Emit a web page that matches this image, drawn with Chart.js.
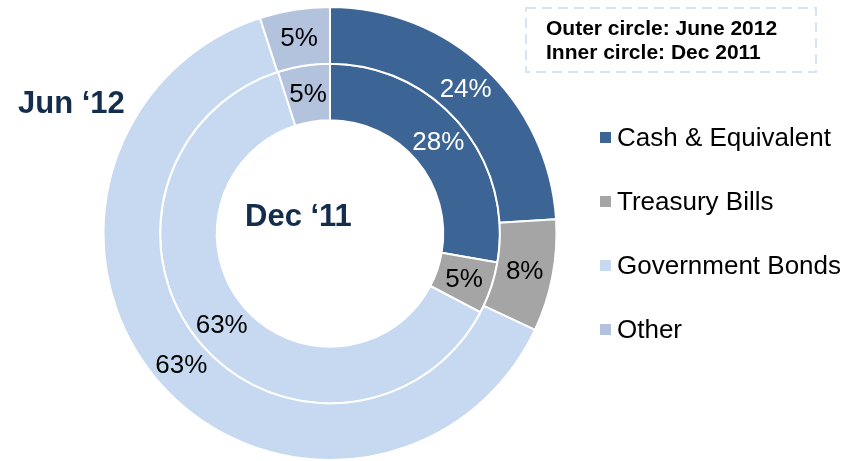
<!DOCTYPE html>
<html>
<head>
<meta charset="utf-8">
<script src="https://cdn.jsdelivr.net/npm/chart.js@4.4.0/dist/chart.umd.min.js"></script>
<style>
  html, body { margin: 0; padding: 0; background: #fff; }
  #wrap { width: 853px; height: 461px; position: relative; }
</style>
</head>
<body>
<div id="wrap"><canvas id="portfolioChart" width="853" height="461"></canvas></div>
<script>
// Portfolio split, outer ring = June 2012, inner ring = Dec 2011
const categories = ['Cash & Equivalent', 'Treasury Bills', 'Government Bonds', 'Other'];
const jun12Values = [24, 8, 63, 5];
const dec11Values = [28, 5, 63, 5];
const sliceColors = ['#3C6494', '#A5A5A5', '#C6D9F1', '#B3C2DD'];
const labelColors = ['#ffffff', '#000000', '#000000', '#000000'];
const ringNames = ['Jun \u201812', 'Dec \u201811'];
const noteLines = ['Outer circle: June 2012', 'Inner circle: Dec 2011'];

const FONT = '"Liberation Sans", Arial, sans-serif';

// Percent labels in the middle of each slice
const sliceLabels = {
    id: 'sliceLabels',
    afterDatasetsDraw(chart) {
        const ctx = chart.ctx;
        ctx.save();
        ctx.font = '26px ' + FONT;
        ctx.textAlign = 'center';
        ctx.textBaseline = 'middle';
        chart.data.datasets.forEach((ds, di) => {
            chart.getDatasetMeta(di).data.forEach((arc, i) => {
                const p = arc.tooltipPosition();
                ctx.fillStyle = labelColors[i];
                ctx.fillText(ds.data[i] + '%', p.x, p.y + 1);
            });
        });
        ctx.restore();
    }
};

// Legend, ring names and the note box
const extras = {
    id: 'extras',
    afterDraw(chart) {
        const ctx = chart.ctx;
        ctx.save();

        // legend on the right
        ctx.font = '26px ' + FONT;
        ctx.textBaseline = 'middle';
        ctx.textAlign = 'left';
        categories.forEach((name, i) => {
            const y = 138 + i * 64;
            ctx.fillStyle = sliceColors[i];
            ctx.fillRect(600, y - 6, 11, 11);
            ctx.fillStyle = '#000';
            ctx.fillText(name, 617, y + 1);
        });

        // ring names
        ctx.font = 'bold 31px ' + FONT;
        ctx.textBaseline = 'alphabetic';
        ctx.fillStyle = '#142D4C';
        ctx.fillText(ringNames[0], 18, 113);
        ctx.fillText(ringNames[1], 245, 226);

        // note box
        ctx.strokeStyle = '#DAE3F1';
        ctx.lineWidth = 2;
        ctx.setLineDash([10, 6]);
        ctx.strokeRect(526, 8, 290, 64);
        ctx.setLineDash([]);
        ctx.font = 'bold 21px ' + FONT;
        ctx.fillStyle = '#000';
        ctx.fillText(noteLines[0], 546, 35);
        ctx.fillText(noteLines[1], 546, 59);

        ctx.restore();
    }
};

new Chart(document.getElementById('portfolioChart'), {
    type: 'doughnut',
    data: {
        labels: categories,
        datasets: [
            {
                label: 'June 2012',
                data: jun12Values,
                backgroundColor: sliceColors,
                borderColor: '#ffffff',
                borderWidth: 2
            },
            {
                label: 'Dec 2011',
                data: dec11Values,
                backgroundColor: sliceColors,
                borderColor: '#ffffff',
                borderWidth: 2
            }
        ]
    },
    options: {
        responsive: false,
        animation: false,
        cutout: '50%',
        layout: {
            padding: { left: 102, right: 295, top: 6, bottom: 0 }
        },
        plugins: {
            legend: { display: false },
            tooltip: { enabled: false }
        }
    },
    plugins: [sliceLabels, extras]
});
</script>
</body>
</html>
